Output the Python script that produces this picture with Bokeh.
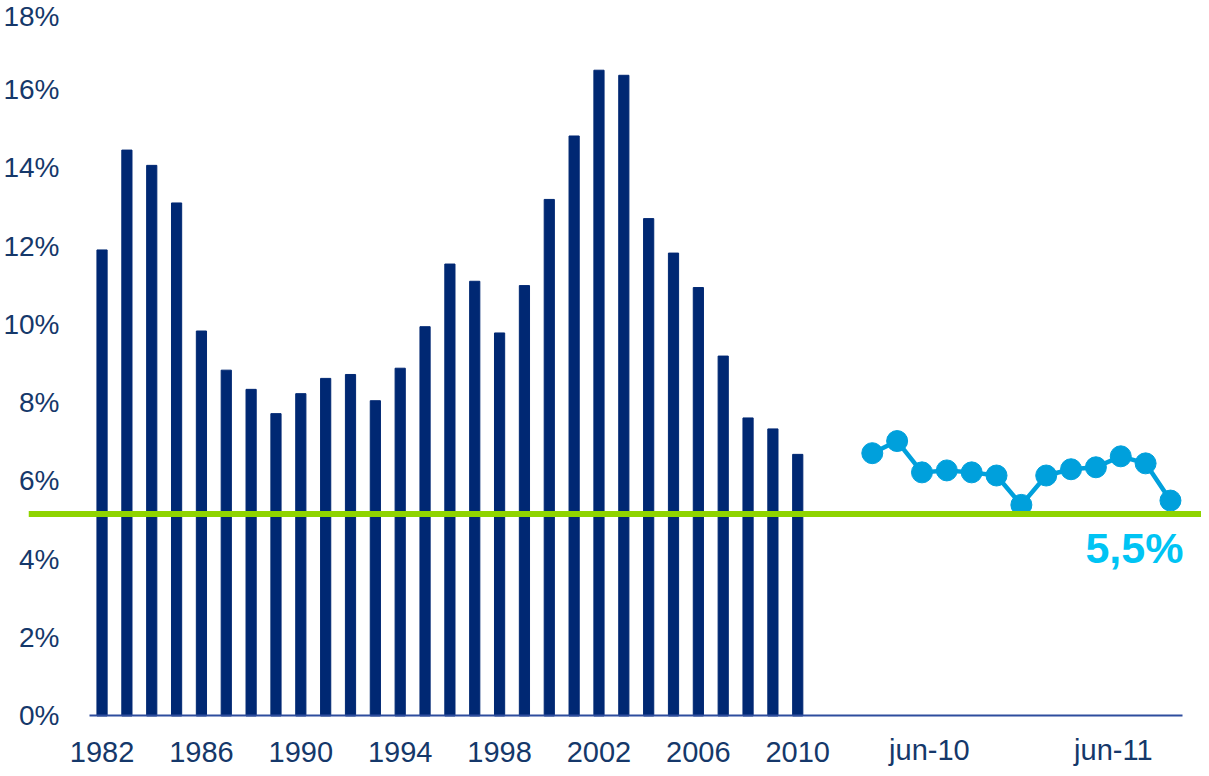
from bokeh.plotting import figure
from bokeh.models import Range1d, FixedTicker, Span, Label, LinearAxis
from bokeh.embed import file_html
from bokeh.resources import INLINE

# ---- data ----
years = list(range(1982, 2011))
annual_rates = [11.9, 14.45, 14.06, 13.1, 9.83, 8.83, 8.34, 7.72, 8.23, 8.62,
                8.72, 8.05, 8.88, 9.94, 11.54, 11.1, 9.78, 10.99, 13.19, 14.81,
                16.49, 16.36, 12.7, 11.82, 10.94, 9.19, 7.61, 7.33, 6.68]
recent_rates = [6.71, 7.02, 6.22, 6.27, 6.22, 6.14, 5.39, 6.14, 6.30, 6.35,
                6.63, 6.45, 5.50]
threshold = 5.16
year_tick_labels = ["1982", "1986", "1990", "1994", "1998", "2002", "2006", "2010"]
month_tick_labels = ["jun-10", "jun-11"]
y_ticks = [0, 2, 4, 6, 8, 10, 12, 14, 16, 18]

# ---- layout helpers (slot units: 10 per year) ----
SLOT = 10
bar_x = [SLOT * i for i in range(len(years))]
gap_slots = 2
line_x = [bar_x[-1] + SLOT * (gap_slots + 1 + k) for k in range(len(recent_rates))]
month_tick_pos = [333, 407]

NAVY = "#002873"
TEXT = "#15386A"
CYAN = "#00A0DC"
GREEN = "#8FD400"

p = figure(width=1201, height=768, output_backend="svg", toolbar_location=None,
           x_range=Range1d(-29.6, 442.5), y_range=Range1d(-1.342, 18.27),
           min_border_left=19, min_border_right=0, min_border_top=0,
           min_border_bottom=0)
p.outline_line_color = None
p.xgrid.visible = False
p.ygrid.visible = False
p.background_fill_color = "white"
p.border_fill_color = "white"

p.vbar(x=bar_x, top=annual_rates, width=4.1, bottom=0, color=NAVY)

p.add_layout(Span(location=threshold, dimension="width", line_color=GREEN,
                  line_width=6))

p.line(line_x, recent_rates, line_color=CYAN, line_width=4.5)
p.scatter(line_x, recent_rates, size=21, fill_color=CYAN, line_color=CYAN)

last_txt = f"{recent_rates[-1]:.1f}".replace(".", ",") + "%"
p.add_layout(Label(x=line_x[-1], y=recent_rates[-1], x_offset=-36, y_offset=-47,
                   text=last_txt, text_align="center", text_baseline="alphabetic",
                   text_font="Liberation Sans", text_font_style="bold",
                   text_font_size="43px", text_color="#00C4F4"))


def style_x(ax, standoff):
    ax.major_tick_line_color = None
    ax.minor_tick_line_color = None
    ax.major_tick_out = 0
    ax.major_tick_in = 0
    ax.axis_label = None
    ax.axis_label_standoff = 0
    ax.major_label_standoff = standoff
    ax.major_label_text_font = "Liberation Sans"
    ax.major_label_text_font_size = "29px"
    ax.major_label_text_color = TEXT
    ax.fixed_location = 0


# x axis: years
year_ticks = [bar_x[years.index(int(s))] for s in year_tick_labels]
xa = p.xaxis[0]
xa.ticker = FixedTicker(ticks=year_ticks)
xa.major_label_overrides = dict(zip(year_ticks, year_tick_labels))
xa.bounds = (-5, 435)
xa.axis_line_color = "#2E4D9E"
xa.axis_line_width = 2
style_x(xa, 26)

# x axis: months (same baseline, labels sit slightly higher)
xm = LinearAxis(ticker=FixedTicker(ticks=month_tick_pos),
                major_label_overrides=dict(zip(month_tick_pos, month_tick_labels)),
                axis_line_color=None)
style_x(xm, 18)
p.add_layout(xm, "below")

# y axis
ya = p.yaxis[0]
ya.ticker = FixedTicker(ticks=y_ticks)
ya.major_label_overrides = {t: f"{t}%" for t in y_ticks}
ya.axis_line_color = None
ya.major_tick_line_color = None
ya.minor_tick_line_color = None
ya.major_label_standoff = -37
ya.major_label_text_font = "Liberation Sans"
ya.major_label_text_font_size = "28px"
ya.major_label_text_color = TEXT

open("out.html", "w").write(file_html(p, INLINE))
